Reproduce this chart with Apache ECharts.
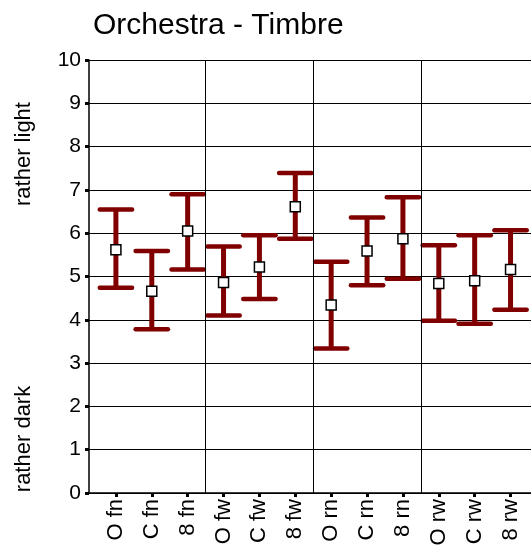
<!DOCTYPE html>
<html>
<head>
<meta charset="utf-8">
<script src="https://cdn.jsdelivr.net/npm/echarts@6/dist/echarts.min.js"></script>
<style>
  html, body { margin: 0; padding: 0; background: #fff; }
  #chart { width: 531px; height: 555px; }
</style>
</head>
<body>
<div id="chart"></div>
<script>
// categories: instrument + condition
const categories = ['O fn', 'C fn', '8 fn', 'O fw', 'C fw', '8 fw', 'O rn', 'C rn', '8 rn', 'O rw', 'C rw', '8 rw'];
const means = [5.62, 4.66, 6.05, 4.86, 5.22, 6.61, 4.34, 5.59, 5.87, 4.84, 4.90, 5.16];
const upper = [6.55, 5.59, 6.90, 5.69, 5.95, 7.39, 5.34, 6.36, 6.83, 5.72, 5.95, 6.07];
const lower = [4.74, 3.78, 5.16, 4.10, 4.48, 5.87, 3.34, 4.80, 4.95, 3.98, 3.91, 4.23];
const groupBreaks = [3.5, 6.5, 9.5];
const catPos = categories.map((c, i) => i + 1);

const font = 'Liberation Sans, Arial, sans-serif';
const red = '#800000';

const chart = echarts.init(document.getElementById('chart'));

const option = {
  animation: false,
  backgroundColor: '#fff',
  title: {
    text: 'Orchestra - Timbre',
    left: 88,
    top: 6,
    textStyle: { fontFamily: font, fontSize: 30, fontWeight: 'normal', color: '#000' }
  },
  graphic: [
    {
      type: 'text', x: 24, y: 154, rotation: Math.PI / 2,
      style: { text: 'rather light', font: '22px ' + font, fill: '#000', align: 'center', verticalAlign: 'middle' }
    },
    {
      type: 'text', x: 24, y: 439, rotation: Math.PI / 2,
      style: { text: 'rather dark', font: '22px ' + font, fill: '#000', align: 'center', verticalAlign: 'middle' }
    }
  ],
  // the plot runs off the right edge of the picture
  grid: { left: 89, top: 60, right: 0, height: 433, containLabel: false, outerBoundsMode: 'none' },
  xAxis: {
    type: 'value',
    min: 0.25,
    max: 12.57,
    splitLine: { show: false },
    axisLine: { lineStyle: { color: '#000', width: 1.5 } },
    axisTick: { customValues: catPos, length: 4, lineStyle: { color: '#000', width: 3 } },
    axisLabel: {
      customValues: catPos,
      formatter: v => categories[Math.round(v) - 1] || '',
      rotate: 90,
      margin: 6,
      fontFamily: font,
      fontSize: 22,
      color: '#000'
    }
  },
  yAxis: {
    type: 'value',
    min: 0,
    max: 10,
    interval: 1,
    axisLine: { show: true, lineStyle: { color: '#000', width: 1.5 } },
    axisTick: { show: true, length: 4, lineStyle: { color: '#000', width: 3 } },
    splitLine: { lineStyle: { color: '#000', width: 1 } },
    axisLabel: { fontFamily: font, fontSize: 21, color: '#000', margin: 8 }
  },
  series: [
    {
      type: 'custom',
      data: catPos.map((x, i) => [x, lower[i], upper[i]]),
      renderItem: function (params, api) {
        const x = api.value(0);
        const lo = api.coord([x, api.value(1)]);
        const hi = api.coord([x, api.value(2)]);
        const half = api.size([1, 0])[0] * 0.45;
        const cap = { stroke: red, lineWidth: 4.5, lineCap: 'round' };
        return {
          type: 'group',
          children: [
            { type: 'line', shape: { x1: hi[0], y1: hi[1], x2: lo[0], y2: lo[1] }, style: { stroke: red, lineWidth: 5 } },
            { type: 'line', shape: { x1: hi[0] - half, y1: hi[1], x2: hi[0] + half, y2: hi[1] }, style: cap },
            { type: 'line', shape: { x1: lo[0] - half, y1: lo[1], x2: lo[0] + half, y2: lo[1] }, style: cap }
          ]
        };
      },
      markLine: {
        silent: true,
        symbol: 'none',
        label: { show: false },
        lineStyle: { color: '#000', width: 1, type: 'solid' },
        data: groupBreaks.map(b => ({ xAxis: b }))
      },
      z: 2
    },
    {
      type: 'scatter',
      data: catPos.map((x, i) => [x, means[i]]),
      symbol: 'rect',
      symbolSize: 10,
      itemStyle: { color: '#fff', borderColor: '#000', borderWidth: 1.5, opacity: 1 },
      z: 3
    }
  ]
};

chart.setOption(option);
</script>
</body>
</html>
